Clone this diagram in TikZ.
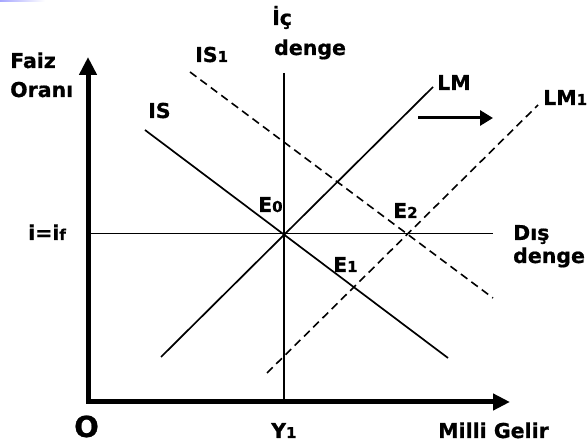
\documentclass[tikz,border=0pt]{standalone}
\usepackage{fontspec}
\newfontfamily\lbl{DejaVu Sans Bold}[FakeBold=0.8]
\usetikzlibrary{arrows.meta}
\newcommand{\sbs}[1]{{\fontsize{15}{15}\selectfont #1}}
\begin{document}
\begin{tikzpicture}[x=1pt,y=-1pt,
  thinline/.style={line width=1.7pt,black},
  dashline/.style={line width=1.6pt,black,dash pattern=on 8pt off 5pt},
  axisline/.style={line width=5pt,black,line join=miter},
  txt/.style={inner sep=0pt,anchor=base west,font=\lbl\fontsize{20.5}{21}\selectfont}]
\useasboundingbox (0,0) rectangle (587,443);
\fill[white] (0,0) rectangle (587,443);
\shade[left color=blue!35!white,right color=white] (0,0) rectangle (45,2);
% coordinates
\coordinate (O) at (88,402);
\coordinate (ytop) at (88,57);
\coordinate (xend) at (510,402);
\coordinate (vtop) at (284,73);
\coordinate (vbot) at (284,402);
\coordinate (hl) at (88,233.5);
\coordinate (hr) at (493,233.5);
\coordinate (lma) at (161,357);
\coordinate (lmb) at (433,87);
\coordinate (isa) at (145,130);
\coordinate (isb) at (448,358);
\coordinate (is1a) at (190,72);
\coordinate (is1b) at (493,298);
\coordinate (lm1a) at (267,373);
\coordinate (lm1b) at (538,105);
\coordinate (arra) at (418,118);
\coordinate (arrb) at (493,118);
% lines
\draw[thinline] (vtop) -- (vbot);
\draw[thinline] (hl) -- (hr);
\draw[thinline] (lma) -- (lmb);
\draw[thinline] (isa) -- (isb);
\draw[dashline] (is1a) -- (is1b);
\draw[dashline] (lm1a) -- (lm1b);
\draw[axisline,{Triangle[length=18pt,width=17pt]}-{Triangle[length=17pt,width=16pt]}] (ytop) -- (O) -- (xend);
\draw[line width=3pt,-{Triangle[length=13pt,width=15pt]}] (arra) -- (arrb);
% labels
\node[txt] (ic) at (272,25) {İç};
\node[txt] (icd) at (274,55) {denge};
\node[txt] (faiz) at (10,68) {Faiz};
\node[txt] (oran) at (10,97) {Oranı};
\node[txt] (is1) at (195,62) {IS\sbs{1}};
\node[txt] (is) at (148,118) {IS};
\node[txt] (lm) at (437,90) {LM};
\node[txt] (lm1) at (543,105) {LM\sbs{1}};
\node[txt] (e0) at (258,212) {E\sbs{0}};
\node[txt] (e2) at (393,218) {E\sbs{2}};
\node[txt] (e1) at (333,272) {E\sbs{1}};
\node[txt] (iif) at (28,240) {i=i\sbs{f}};
\node[txt] (dis) at (513,240) {Dış};
\node[txt] (disd) at (513,263) {denge};
\node[txt,font=\lbl\fontsize{29}{29}\selectfont] (o) at (74,437) {O};
\node[txt] (y1) at (271,438) {Y\sbs{1}};
\node[txt] (mg) at (438,438) {Milli Gelir};
\end{tikzpicture}
\end{document}
